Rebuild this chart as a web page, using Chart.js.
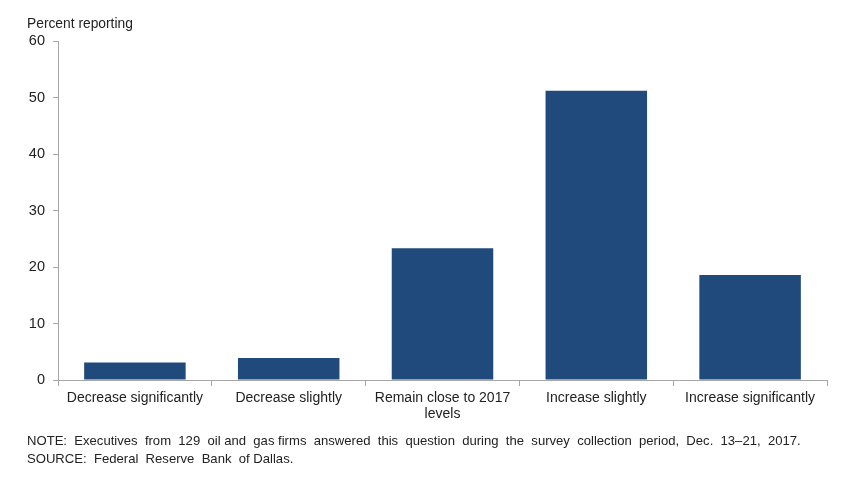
<!DOCTYPE html>
<html lang="en">
<head>
    <meta charset="UTF-8">
    <title>Percent reporting</title>
    <style>
        html, body { margin: 0; padding: 0; background: #fff; }
        .container { width: 851px; height: 487px; position: relative; }
    </style>
</head>
<body>
    <div class="container">
        <canvas id="myBarChart"></canvas>
    </div>

    <script src="https://cdn.jsdelivr.net/npm/chart.js"></script>
    <script>
        const categories = [
            "Decrease significantly",
            "Decrease slightly",
            ["Remain close to 2017", "levels"],
            "Increase slightly",
            "Increase significantly"
        ];
        const percents = [3.1, 3.9, 23.3, 51.2, 18.6];
        const yTicks = [0, 10, 20, 30, 40, 50, 60];

        const axisTitle = "Percent reporting";
        const noteLines = [
            "NOTE:  Executives  from  129  oil and  gas firms  answered  this  question  during  the  survey  collection  period,  Dec.  13–21,  2017.",
            "SOURCE:  Federal  Reserve  Bank  of Dallas."
        ];

        const FONT = "'Liberation Sans', Arial, sans-serif";
        const axisGray = '#a6a6a6';

        // text around the plot (axis title and footnotes)
        const textPlugin = {
            id: 'extraText',
            afterDraw(chart) {
                const ctx = chart.ctx;
                ctx.save();
                ctx.fillStyle = '#222';
                ctx.textBaseline = 'alphabetic';
                ctx.textAlign = 'left';
                ctx.font = `13.8px ${FONT}`;
                ctx.fillText(axisTitle, 27, 28);
                ctx.font = `13.1px ${FONT}`;
                ctx.fillText(noteLines[0], 27, 445);
                ctx.fillText(noteLines[1], 27, 463);
                ctx.restore();
            }
        };

        const data = {
            labels: categories,
            datasets: [{
                data: percents,
                backgroundColor: '#214a7c',
                borderWidth: 0,
                categoryPercentage: 1,
                barPercentage: 0.66
            }]
        };

        const config = {
            type: 'bar',
            data: data,
            plugins: [textPlugin],
            options: {
                responsive: true,
                maintainAspectRatio: false,
                animation: false,
                layout: { padding: { top: 41, right: 24, left: 0, bottom: 0 } },
                plugins: {
                    legend: { display: false },
                    tooltip: { enabled: false }
                },
                scales: {
                    x: {
                        offset: true,
                        grid: {
                            offset: true,
                            drawOnChartArea: false,
                            drawTicks: true,
                            tickLength: 6,
                            color: axisGray
                        },
                        border: { color: axisGray, width: 1 },
                        ticks: {
                            color: '#222',
                            font: { family: FONT, size: 14, lineHeight: 1.15 },
                            maxRotation: 0,
                            autoSkip: false,
                            padding: 4
                        },
                        afterFit(scale) { scale.height = 107; }
                    },
                    y: {
                        min: 0,
                        max: 60,
                        afterBuildTicks(scale) {
                            scale.ticks = yTicks.map(v => ({ value: v }));
                        },
                        grid: {
                            drawOnChartArea: false,
                            drawTicks: true,
                            tickLength: 5,
                            color: axisGray
                        },
                        border: { color: axisGray, width: 1 },
                        ticks: {
                            color: '#222',
                            font: { family: FONT, size: 14.5 },
                            padding: 8
                        },
                        afterFit(scale) { scale.width = 58; }
                    }
                }
            }
        };

        const ctx = document.getElementById('myBarChart').getContext('2d');
        new Chart(ctx, config);
    </script>
</body>
</html>
